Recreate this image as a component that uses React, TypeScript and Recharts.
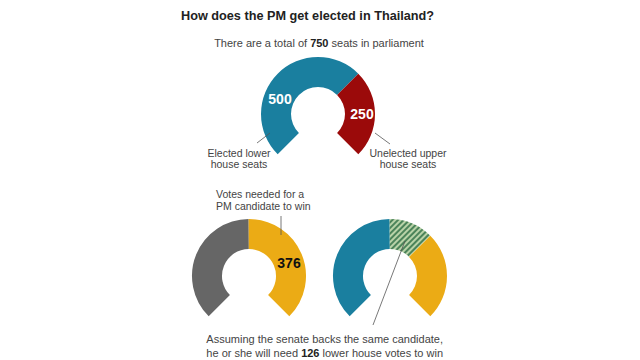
import { PieChart, Pie, Cell } from "recharts";

// seats in parliament
const parliament = [
  { name: "Elected lower house seats", value: 500 },
  { name: "Unelected upper house seats", value: 250 },
];
const parliamentColors = ["#1a7f9f", "#9b0a0a"];

// votes a PM candidate needs
const votesToWin = [
  { name: "Remaining seats", value: 374 },
  { name: "Votes needed", value: 376 },
];
const votesToWinColors = ["#666666", "#ebab15"];

// if the senate backs the candidate
const senateBacked = [
  { name: "Other lower house seats", value: 374 },
  { name: "Lower house votes needed", value: 126 },
  { name: "Senate votes", value: 250 },
];
const senateBackedColors = ["#1a7f9f", "url(#hatch)", "#ebab15"];

const font = "'Liberation Sans', Arial, sans-serif";
const labelColor = "#444";

const Gauge = ({
  data,
  colors,
  cx,
  cy,
}: {
  data: { name: string; value: number }[];
  colors: string[];
  cx: number;
  cy: number;
}) => (
  <Pie
    data={data}
    dataKey="value"
    cx={cx}
    cy={cy}
    innerRadius={27}
    outerRadius={57}
    startAngle={225}
    endAngle={-45}
    stroke="none"
    isAnimationActive={false}
  >
    {data.map((d, i) => (
      <Cell key={d.name} fill={colors[i]} />
    ))}
  </Pie>
);

export default function App() {
  return (
    <div style={{ position: "absolute", left: 0, top: 0, width: 640, height: 360, background: "#fff" }}>
      <PieChart width={640} height={360} margin={{ top: 0, right: 0, bottom: 0, left: 0 }}>
        <defs>
          <pattern
            id="hatch"
            width="4"
            height="4"
            patternUnits="userSpaceOnUse"
            patternTransform="rotate(45)"
          >
            <rect width="4" height="4" fill="#b9d3a8" />
            <rect width="2" height="4" fill="#4c845a" />
          </pattern>
        </defs>
        {Gauge({ data: parliament, colors: parliamentColors, cx: 318, cy: 114 })}
        {Gauge({ data: votesToWin, colors: votesToWinColors, cx: 249, cy: 276 })}
        {Gauge({ data: senateBacked, colors: senateBackedColors, cx: 390, cy: 276 })}
      </PieChart>

      {/* annotations drawn over the gauges */}
      <svg
        width={640}
        height={360}
        style={{ position: "absolute", left: 0, top: 0, pointerEvents: "none" }}
      >
        <text x={181} y={20} fontFamily={font} fontSize={12.7} fontWeight="bold" fill="#222">
          How does the PM get elected in Thailand?
        </text>
        <text x={319} y={47} textAnchor="middle" fontFamily={font} fontSize={11} fill={labelColor}>
          There are a total of <tspan fontWeight="bold" fill="#222">750</tspan> seats in parliament
        </text>

        <text x={280} y={104} textAnchor="middle" fontFamily={font} fontSize={14} fontWeight="bold" fill="#fff">
          500
        </text>
        <text x={362} y={119} textAnchor="middle" fontFamily={font} fontSize={14} fontWeight="bold" fill="#fff">
          250
        </text>

        <line x1={257} y1={143} x2={270} y2={133} stroke="#555" strokeWidth={0.8} />
        <line x1={375} y1={133} x2={390} y2={144} stroke="#555" strokeWidth={0.8} />
        <text textAnchor="middle" fontFamily={font} fontSize={10.5} fill={labelColor}>
          <tspan x={239} y={157}>Elected lower</tspan>
          <tspan x={239} y={168}>house seats</tspan>
        </text>
        <text textAnchor="middle" fontFamily={font} fontSize={10.5} fill={labelColor}>
          <tspan x={408} y={157}>Unelected upper</tspan>
          <tspan x={408} y={168}>house seats</tspan>
        </text>

        <text fontFamily={font} fontSize={10.5} fill={labelColor}>
          <tspan x={216} y={198}>Votes needed for a</tspan>
          <tspan x={216} y={210}>PM candidate to win</tspan>
        </text>
        <line x1={281} y1={216} x2={281} y2={235} stroke="#555" strokeWidth={0.8} />
        <text x={289} y={268} textAnchor="middle" fontFamily={font} fontSize={14} fontWeight="bold" fill="#111">
          376
        </text>

        <line x1={373} y1={325} x2={405} y2={241} stroke="#555" strokeWidth={0.8} />
        <text textAnchor="end" fontFamily={font} fontSize={11} fill={labelColor}>
          <tspan x={443} y={343}>Assuming the senate backs the same candidate,</tspan>
          <tspan x={443} y={357}>
            he or she will need <tspan fontWeight="bold" fill="#222">126</tspan> lower house votes to win
          </tspan>
        </text>
      </svg>
    </div>
  );
}
